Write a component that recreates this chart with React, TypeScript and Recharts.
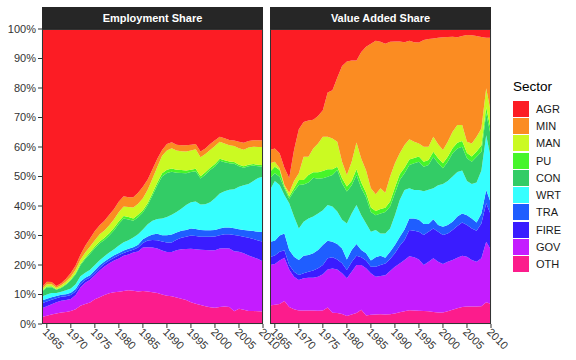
import React from "react";
import { AreaChart, Area, XAxis, YAxis, CartesianGrid } from "recharts";

const years = [
  1964, 1965, 1966, 1967, 1968, 1969, 1970, 1971, 1972, 1973,
  1974, 1975, 1976, 1977, 1978, 1979, 1980, 1981, 1982, 1983,
  1984, 1985, 1986, 1987, 1988, 1989, 1990, 1991, 1992, 1993,
  1994, 1995, 1996, 1997, 1998, 1999, 2000, 2001, 2002, 2003,
  2004, 2005, 2006, 2007, 2008, 2009, 2010,
];
const yearTicks = [1965, 1970, 1975, 1980, 1985, 1990, 1995, 2000, 2005, 2010];
const shareTicks = [0, 0.1, 0.2, 0.3, 0.4, 0.5, 0.6, 0.7, 0.8, 0.9, 1];

// legend order (top of stack first)
const sectors = ["AGR", "MIN", "MAN", "PU", "CON", "WRT", "TRA", "FIRE", "GOV", "OTH"];
const sectorColors: Record<string, string> = {
  AGR: "#fc1c24",
  MIN: "#fb8c22",
  MAN: "#cbfa22",
  PU: "#46f52a",
  CON: "#33cc66",
  WRT: "#36ffff",
  TRA: "#1f5eff",
  FIRE: "#3a1cff",
  GOV: "#c41cff",
  OTH: "#fc1c8c",
};

// employment shares (%), 1964-2010
const empAGR = [87.5, 85.7, 85.8, 87.1, 86.2, 84.7, 82.7, 80.2, 76.5, 73.5, 71.0, 68.5, 66.5, 65.0, 63.0, 61.0, 58.5, 56.7, 57.0, 57.0, 55.5, 53.5, 51.0, 47.5, 44.0, 41.0, 39.0, 38.4, 39.2, 39.4, 39.4, 39.2, 39.0, 41.5, 40.5, 39.0, 37.7, 36.5, 37.0, 37.6, 37.8, 38.2, 38.6, 38.0, 37.7, 37.7, 37.8];
const empMIN = [0.7, 0.8, 0.7, 0.6, 0.7, 0.9, 1.3, 1.4, 1.7, 2.3, 2.7, 3.1, 3.1, 3.3, 3.5, 3.5, 3.5, 3.5, 3.3, 3.5, 3.7, 3.9, 3.5, 3.2, 2.8, 2.0, 2.2, 2.0, 2.0, 2.0, 2.1, 2.0, 1.8, 2.0, 1.9, 2.0, 2.0, 1.7, 1.8, 1.8, 1.9, 2.2, 2.3, 2.2, 2.2, 2.3, 2.2];
const empMAN = [0.5, 0.8, 0.7, 0.5, 0.6, 0.8, 0.9, 1.2, 1.5, 1.7, 2.0, 2.1, 2.4, 2.5, 2.7, 2.9, 3.2, 3.2, 3.4, 3.7, 3.8, 4.0, 4.5, 4.9, 5.2, 5.9, 6.5, 6.9, 6.5, 6.4, 6.5, 6.5, 6.6, 6.4, 6.2, 6.0, 6.1, 5.8, 5.7, 5.5, 5.4, 5.6, 5.6, 5.8, 5.9, 6.0, 6.2];
const empPU = [0.3, 0.3, 0.3, 0.2, 0.3, 0.3, 0.3, 0.4, 0.4, 0.5, 0.5, 0.6, 0.6, 0.7, 0.8, 0.8, 0.8, 0.8, 0.9, 0.8, 0.8, 0.8, 0.7, 0.8, 1.0, 1.1, 1.1, 1.1, 1.0, 1.0, 0.9, 0.8, 0.8, 0.8, 0.8, 0.8, 0.8, 0.7, 0.7, 0.6, 0.6, 0.5, 0.5, 0.5, 0.5, 0.5, 0.5];
const empCON = [1.7, 2.4, 2.0, 1.1, 1.3, 1.9, 2.8, 3.3, 3.7, 4.6, 5.4, 5.7, 5.8, 5.5, 5.8, 6.5, 7.4, 8.1, 7.0, 5.7, 5.8, 5.8, 6.5, 8.6, 11.4, 14.2, 14.9, 14.6, 13.3, 12.1, 10.8, 10.2, 10.3, 8.8, 10.0, 10.9, 10.8, 11.1, 9.8, 9.0, 8.6, 7.0, 6.0, 6.0, 5.2, 4.0, 3.4];
const empWRT = [1.3, 1.4, 1.4, 1.0, 1.0, 1.3, 1.4, 1.6, 1.8, 1.7, 1.9, 1.8, 1.7, 1.8, 1.9, 2.0, 2.5, 2.8, 2.9, 3.3, 3.5, 3.3, 4.1, 4.7, 5.0, 5.7, 6.2, 6.7, 7.0, 7.5, 8.4, 8.9, 9.3, 8.6, 8.8, 9.5, 10.7, 11.8, 12.3, 12.8, 13.2, 14.4, 15.1, 15.8, 17.0, 18.2, 18.7];
const empTRA = [1.0, 1.0, 0.9, 0.8, 0.7, 0.7, 0.8, 0.9, 0.9, 0.8, 0.7, 0.9, 0.9, 0.8, 0.8, 0.8, 0.8, 0.8, 0.8, 0.8, 1.0, 1.2, 1.4, 1.8, 2.2, 2.1, 2.5, 2.7, 2.4, 2.4, 2.3, 2.4, 2.4, 2.3, 2.2, 2.2, 2.2, 2.3, 2.3, 2.3, 2.3, 2.2, 2.3, 2.5, 2.7, 3.0, 3.3];
const empFIRE = [1.7, 1.6, 1.5, 1.3, 1.3, 1.3, 1.3, 1.2, 1.1, 0.9, 0.8, 0.8, 0.9, 0.9, 0.9, 1.0, 1.1, 1.0, 1.1, 1.0, 1.3, 1.6, 2.3, 2.6, 2.8, 3.1, 3.2, 3.2, 3.6, 3.9, 4.2, 4.5, 4.5, 4.4, 4.5, 4.6, 4.7, 4.5, 4.7, 4.8, 5.5, 5.4, 5.6, 6.0, 6.2, 6.3, 6.7];
const empGOV = [2.9, 3.2, 3.5, 3.8, 4.0, 4.0, 4.1, 4.8, 6.2, 7.2, 7.7, 8.1, 9.0, 9.7, 10.2, 10.7, 11.3, 11.9, 12.2, 12.9, 13.6, 14.7, 15.0, 15.1, 15.1, 14.9, 14.8, 15.0, 16.0, 16.7, 17.3, 18.1, 18.4, 18.8, 19.1, 19.3, 19.5, 19.8, 19.8, 19.8, 20.4, 19.3, 19.2, 18.8, 18.2, 17.7, 17.0];
const empOTH = [2.4, 2.8, 3.2, 3.6, 3.9, 4.1, 4.4, 5.0, 6.2, 6.8, 7.3, 8.4, 9.1, 9.8, 10.4, 10.8, 10.9, 11.2, 11.4, 11.3, 11.0, 11.2, 11.0, 10.8, 10.5, 10.0, 9.6, 9.4, 9.0, 8.6, 8.1, 7.4, 6.9, 6.4, 6.0, 5.7, 5.5, 5.8, 5.9, 5.8, 4.3, 5.2, 4.8, 4.4, 4.4, 4.3, 4.2];

// value added shares (%), 1964-2010
const vaAGR = [41.0, 40.5, 42.1, 47.0, 50.5, 41.0, 34.0, 31.5, 31.0, 30.8, 29.5, 27.5, 21.5, 20.8, 16.5, 12.5, 11.0, 10.7, 10.7, 7.8, 6.0, 5.0, 4.0, 4.3, 5.0, 4.3, 4.2, 4.2, 4.5, 4.0, 4.5, 4.6, 3.7, 3.4, 3.2, 3.0, 2.8, 2.7, 2.6, 2.8, 2.4, 2.0, 2.1, 2.4, 2.7, 3.0, 3.0];
const vaMIN = [4.5, 4.5, 5.1, 5.9, 5.0, 10.5, 14.9, 11.8, 12.3, 9.7, 9.3, 9.0, 15.0, 16.3, 21.7, 32.5, 38.5, 34.3, 27.8, 36.2, 42.0, 49.0, 52.0, 49.7, 50.5, 45.7, 41.3, 37.9, 34.8, 33.4, 33.7, 34.2, 36.2, 36.5, 33.3, 36.1, 38.2, 35.5, 32.2, 29.7, 30.1, 36.2, 36.7, 34.1, 31.0, 17.1, 25.6];
const vaMAN = [2.9, 1.7, 0.6, 0.5, 1.3, 2.5, 2.3, 7.9, 6.2, 8.1, 9.8, 11.6, 11.0, 10.4, 8.5, 5.6, 3.9, 6.5, 9.0, 8.0, 7.5, 6.5, 5.7, 7.0, 5.1, 8.5, 8.2, 7.1, 7.7, 6.8, 5.5, 4.4, 5.1, 4.5, 5.1, 4.7, 4.5, 5.1, 5.6, 6.1, 5.5, 3.8, 4.4, 5.0, 5.8, 6.4, 5.9];
const vaPU = [2.2, 2.2, 2.3, 0.6, 0.7, 1.0, 1.7, 1.5, 2.5, 1.8, 2.2, 2.5, 2.6, 2.0, 1.1, 1.7, 1.7, 1.5, 2.0, 2.0, 1.5, 1.5, 1.4, 1.5, 1.4, 1.7, 2.0, 2.0, 1.9, 1.9, 1.8, 1.8, 1.7, 1.7, 1.7, 1.7, 1.7, 1.7, 1.7, 1.9, 1.9, 1.8, 1.8, 1.8, 2.1, 2.1, 2.0];
const vaCON = [4.0, 2.6, 2.8, 2.3, 1.6, 8.6, 14.7, 12.6, 12.2, 13.2, 11.7, 10.8, 9.6, 10.7, 14.1, 12.4, 10.8, 9.5, 10.2, 9.1, 8.9, 6.7, 5.0, 6.8, 7.3, 7.4, 7.4, 6.8, 5.7, 7.9, 9.1, 9.6, 8.3, 8.4, 10.7, 7.5, 5.3, 6.5, 7.9, 8.0, 8.1, 7.7, 7.5, 8.7, 6.4, 7.4, 7.5];
const vaWRT = [17.5, 20.3, 17.1, 13.0, 15.8, 13.6, 10.7, 11.6, 12.4, 12.4, 12.4, 11.8, 12.1, 11.9, 11.0, 9.7, 12.2, 12.4, 13.2, 11.8, 10.1, 9.8, 9.3, 7.6, 8.2, 7.9, 10.1, 12.5, 13.4, 10.2, 9.6, 10.1, 11.1, 11.6, 10.5, 13.4, 14.5, 14.9, 15.3, 15.1, 14.5, 11.6, 11.7, 13.6, 14.5, 18.6, 15.1];
const vaTRA = [5.2, 5.0, 5.5, 5.7, 5.1, 5.1, 5.1, 5.9, 5.7, 5.9, 6.2, 6.8, 5.9, 5.3, 5.2, 5.0, 3.6, 4.1, 4.0, 2.5, 2.5, 2.1, 3.2, 3.1, 2.0, 2.5, 2.8, 3.0, 3.5, 3.9, 4.2, 4.0, 3.7, 2.6, 3.1, 2.3, 2.8, 2.9, 2.8, 3.2, 3.1, 3.3, 3.4, 2.8, 3.4, 4.5, 4.0];
const vaFIRE = [2.7, 2.9, 3.0, 2.5, 1.5, 1.7, 1.7, 1.7, 2.0, 2.4, 2.9, 3.1, 3.8, 3.8, 3.4, 3.4, 2.8, 3.3, 3.1, 2.6, 2.6, 2.2, 3.4, 3.7, 4.0, 4.0, 4.6, 6.0, 6.8, 8.9, 9.0, 9.4, 10.2, 10.2, 10.1, 10.2, 9.9, 9.6, 10.2, 10.7, 11.3, 10.8, 10.7, 10.5, 11.8, 13.0, 11.8];
const vaGOV = [13.7, 13.8, 14.7, 14.7, 12.7, 11.0, 10.3, 10.9, 11.1, 11.1, 11.5, 12.3, 12.9, 15.0, 14.8, 13.8, 12.8, 14.5, 16.3, 15.2, 16.0, 14.1, 12.8, 13.0, 13.3, 14.7, 15.8, 16.5, 17.4, 18.3, 18.0, 17.4, 15.6, 16.8, 18.2, 17.2, 16.4, 16.8, 16.9, 17.2, 17.3, 16.9, 15.8, 15.2, 16.3, 20.5, 18.3];
const vaOTH = [6.3, 6.5, 6.8, 7.8, 5.8, 5.0, 4.6, 4.6, 4.6, 4.6, 4.5, 4.6, 5.6, 3.8, 3.7, 3.4, 2.7, 3.2, 3.7, 4.8, 2.9, 3.1, 3.2, 3.3, 3.2, 3.3, 3.6, 4.0, 4.3, 4.7, 4.6, 4.5, 4.4, 4.3, 4.1, 3.9, 3.9, 4.3, 4.8, 5.3, 5.8, 5.9, 5.9, 5.9, 6.0, 7.4, 6.8];

const empSeries: Record<string, number[]> = {
  AGR: empAGR, MIN: empMIN, MAN: empMAN, PU: empPU, CON: empCON,
  WRT: empWRT, TRA: empTRA, FIRE: empFIRE, GOV: empGOV, OTH: empOTH,
};
const vaSeries: Record<string, number[]> = {
  AGR: vaAGR, MIN: vaMIN, MAN: vaMAN, PU: vaPU, CON: vaCON,
  WRT: vaWRT, TRA: vaTRA, FIRE: vaFIRE, GOV: vaGOV, OTH: vaOTH,
};

function buildRows(series: Record<string, number[]>) {
  return years.map((year, i) => {
    const row: Record<string, number> = { year };
    sectors.forEach((s) => {
      row[s] = series[s][i];
    });
    return row;
  });
}

const FONT = "'Liberation Sans', Arial, Helvetica, sans-serif";
const TEXT = "#333333";
const PLOT_TOP = 29;
const PLOT_H = 295;
const PLOT_W = 221;

const YearTick = (props: any) => {
  const { x, y, payload } = props;
  return (
    <g transform={`translate(${x - 2},${y})`}>
      <text transform="rotate(45)" textAnchor="start" dy="0.35em" fontSize={11} fill={TEXT} fontFamily={FONT}>
        {payload.value}
      </text>
    </g>
  );
};

function Panel({ title, series, left, showY }: { title: string; series: Record<string, number[]>; left: number; showY: boolean }) {
  const rows = buildRows(series);
  const yWidth = showY ? 42 : 0;
  const stackOrder = [...sectors].reverse();
  return (
    <>
      <div
        style={{
          position: "absolute",
          left: left + yWidth,
          top: 7,
          width: PLOT_W,
          height: 22,
          background: "#262626",
          color: "#ffffff",
          fontFamily: FONT,
          fontWeight: "bold",
          fontSize: 11,
          lineHeight: "22px",
          textAlign: "center",
        }}
      >
        {title}
      </div>
      <div style={{ position: "absolute", left, top: PLOT_TOP - 9 }}>
        <AreaChart
          width={yWidth + PLOT_W + 30}
          height={340}
          data={rows}
          stackOffset="expand"
          margin={{ top: 9, right: 30, bottom: 0, left: 0 }}
        >
          <XAxis
            dataKey="year"
            type="number"
            domain={[1964, 2010]}
            ticks={yearTicks}
            height={36}
            tickSize={4}
            tickMargin={2}
            axisLine={false}
            tickLine={{ stroke: TEXT }}
            tick={<YearTick />}
            interval={0}
            allowDataOverflow
          />
          <YAxis
            hide={!showY}
            width={42}
            domain={[0, 1]}
            ticks={shareTicks}
            tickFormatter={(v: number) => `${Math.round(v * 100)}%`}
            tickSize={4}
            tickMargin={2}
            axisLine={false}
            tickLine={{ stroke: TEXT }}
            tick={{ fontSize: 11, fill: TEXT, fontFamily: FONT }}
            interval={0}
          />
          {stackOrder.map((s) => (
            <Area
              key={s}
              type="linear"
              dataKey={s}
              stackId="1"
              stroke="none"
              fill={sectorColors[s]}
              fillOpacity={1}
              isAnimationActive={false}
              dot={false}
              activeDot={false}
            />
          ))}
          <CartesianGrid stroke="rgba(0,0,0,0.06)" strokeWidth={1} />
        </AreaChart>
      </div>
      <div
        style={{
          position: "absolute",
          left: left + yWidth,
          top: PLOT_TOP,
          width: PLOT_W,
          height: PLOT_H,
          border: "1px solid #333333",
          boxSizing: "border-box",
          pointerEvents: "none",
        }}
      />
    </>
  );
}

function Legend() {
  return (
    <div style={{ position: "absolute", left: 513, top: 78, fontFamily: FONT, color: "#000" }}>
      <div style={{ fontSize: 13.5, lineHeight: "18px", marginBottom: 4 }}>Sector</div>
      {sectors.map((s) => (
        <div key={s} style={{ display: "flex", alignItems: "center", height: 17.3 }}>
          <span style={{ display: "inline-block", width: 16, height: 16, background: sectorColors[s] }} />
          <span style={{ fontSize: 11, marginLeft: 7, color: "#1a1a1a" }}>{s}</span>
        </div>
      ))}
    </div>
  );
}

export default function App() {
  return (
    <div style={{ position: "relative", width: 576, height: 360, background: "#ffffff", overflow: "hidden" }}>
      <style>{`body{margin:0;overflow:hidden}`}</style>
      <Panel title="Employment Share" series={empSeries} left={0} showY={true} />
      <Panel title="Value Added Share" series={vaSeries} left={270} showY={false} />
      <Legend />
    </div>
  );
}
